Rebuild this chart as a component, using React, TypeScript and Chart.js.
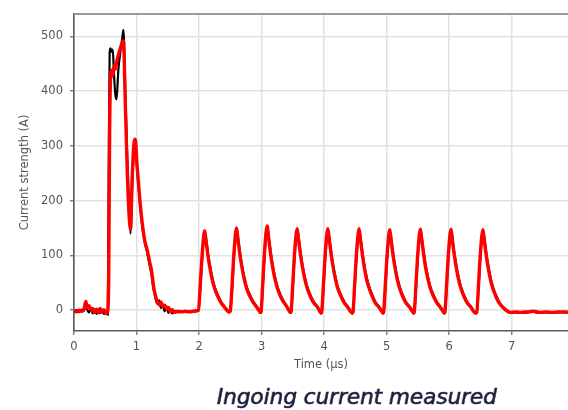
import { useEffect, useRef } from 'react';
import { Chart, registerables } from 'chart.js';

Chart.register(...registerables);

// Initial burst (µs) – red and black probe traces sampled at shared instants
const burstTime = [
  0.0, 0.04, 0.08, 0.12, 0.16, 0.19, 0.21, 0.24, 0.27, 0.3, 0.33, 0.36, 0.39, 0.42, 0.45, 0.48,
  0.51, 0.54, 0.555, 0.57, 0.585, 0.6, 0.62, 0.64, 0.66, 0.68, 0.71, 0.74, 0.77, 0.79, 0.82, 0.85,
  0.88, 0.905, 0.93, 0.96, 0.98, 1.01, 1.05, 1.09, 1.13, 1.17, 1.21, 1.24, 1.27, 1.3, 1.33, 1.36,
  1.39, 1.42, 1.45, 1.48, 1.51, 1.54, 1.57, 1.61, 1.66, 1.72, 1.78, 1.84, 1.9, 1.95,
];
const burstRed = [
  -1, -3, 0, -2, 2, 16, 5, 8, 0, 3, -4, 2, -5, 3, -3, 1,
  -6, -2, 60, 330, 425, 438, 428, 446, 440, 452, 466, 478, 488, 492, 380, 260,
  175, 148, 240, 305, 312, 262, 205, 160, 128, 110, 88, 72, 45, 28, 16, 10,
  15, 6, 9, 2, 5, -3, 1, -4, -2, -3, -2, -3, -2, -1,
];
const burstBlack = [
  -2, 0, -3, 1, -1, 12, 2, -4, 4, -6, 1, -7, 2, -5, -1, -7,
  -3, -8, 250, 470, 478, 472, 476, 430, 395, 385, 440, 470, 495, 512, 400, 285,
  190, 140, 225, 292, 300, 255, 200, 155, 125, 105, 82, 65, 40, 24, 12, 18,
  4, 10, -2, 7, -5, 2, -6, -1, -4, -2, -3, -2, -3, -2,
];

// Pulse train (µs)
const trainTime = [
  1.99, 2.02, 2.05, 2.09, 2.11, 2.14, 2.17, 2.21, 2.25, 2.3, 2.35, 2.41, 2.46, 2.49,
  2.5, 2.53, 2.56, 2.6, 2.62, 2.65, 2.68, 2.72, 2.76, 2.81, 2.86, 2.92, 2.96, 2.98,
  2.99, 3.02, 3.05, 3.09, 3.11, 3.14, 3.17, 3.21, 3.25, 3.3, 3.35, 3.4, 3.44, 3.46,
  3.47, 3.5, 3.53, 3.57, 3.59, 3.62, 3.65, 3.69, 3.73, 3.78, 3.83, 3.89, 3.93, 3.95,
  3.96, 3.99, 4.02, 4.06, 4.08, 4.11, 4.14, 4.18, 4.22, 4.27, 4.32, 4.38, 4.42, 4.45,
  4.46, 4.49, 4.52, 4.56, 4.58, 4.61, 4.64, 4.68, 4.72, 4.77, 4.82, 4.88, 4.92, 4.94,
  4.95, 4.98, 5.01, 5.05, 5.07, 5.1, 5.13, 5.17, 5.21, 5.26, 5.31, 5.37, 5.41, 5.43,
  5.44, 5.47, 5.5, 5.54, 5.56, 5.59, 5.62, 5.66, 5.7, 5.75, 5.8, 5.86, 5.9, 5.92,
  5.93, 5.96, 5.99, 6.03, 6.05, 6.08, 6.11, 6.15, 6.19, 6.24, 6.29, 6.35, 6.39, 6.42,
  6.44, 6.47, 6.5, 6.54, 6.56, 6.59, 6.62, 6.66, 6.7, 6.75, 6.8, 6.86, 6.92, 6.98,
  7.05, 7.15, 7.25, 7.35, 7.45, 7.55, 7.65, 7.75, 7.85, 7.92,
];
const trainRed = [
  0, 48, 102, 145, 128, 101, 80, 56, 39, 25, 14, 5, -2, -3,
  -1, 50, 108, 150, 131, 104, 82, 58, 40, 26, 15, 6, -1, -4,
  -3, 52, 112, 154, 134, 106, 83, 59, 41, 26, 15, 7, -1, -4,
  -3, 50, 109, 149, 130, 103, 81, 57, 40, 25, 14, 6, -2, -5,
  -4, 49, 107, 149, 131, 104, 81, 57, 39, 25, 14, 5, -2, -5,
  -4, 51, 108, 149, 130, 103, 80, 56, 40, 25, 13, 5, -2, -5,
  -4, 49, 106, 147, 129, 102, 80, 56, 39, 24, 13, 5, -2, -5,
  -4, 50, 107, 148, 130, 103, 80, 57, 39, 25, 14, 5, -2, -5,
  -4, 50, 107, 148, 129, 102, 80, 56, 39, 24, 13, 5, -2, -5,
  -4, 49, 106, 147, 129, 102, 80, 56, 39, 24, 13, 5, -1, -4,
  -3, -4, -3, -2, -4, -3, -4, -3, -3, -4,
];
const trainBlack = [
  -1, 40, 96, 142, 132, 106, 84, 60, 42, 28, 16, 6, -1, -4,
  -2, 42, 101, 147, 135, 109, 86, 62, 43, 29, 17, 7, 0, -5,
  -4, 44, 104, 151, 138, 111, 87, 63, 44, 29, 17, 8, 0, -5,
  -4, 42, 102, 146, 134, 108, 85, 61, 43, 28, 16, 7, -1, -6,
  -5, 41, 100, 146, 135, 109, 85, 61, 42, 28, 16, 6, -1, -6,
  -5, 43, 101, 146, 134, 108, 84, 60, 43, 28, 15, 6, -1, -6,
  -5, 41, 99, 144, 133, 107, 84, 60, 42, 27, 15, 6, -1, -6,
  -5, 42, 100, 145, 134, 108, 84, 61, 42, 28, 16, 6, -1, -6,
  -5, 42, 100, 145, 133, 107, 84, 60, 42, 27, 15, 6, -1, -6,
  -5, 41, 99, 144, 133, 107, 84, 60, 42, 27, 15, 6, 0, -5,
  -4, -5, -4, -3, -5, -4, -5, -4, -4, -5,
];

const yTicks = [0, 100, 200, 300, 400, 500];
const xTicks = [0, 1, 2, 3, 4, 5, 6, 7];

const toPoints = (t: number[], v: number[]) => t.map((x, i) => ({ x, y: v[i] }));

export default function App() {
  const canvasRef = useRef<HTMLCanvasElement>(null);

  useEffect(() => {
    const canvas = canvasRef.current;
    if (!canvas) return;
    Chart.defaults.font.family = "'DejaVu Sans', sans-serif";

    // top edge of the axes frame
    const frame = {
      id: 'frame',
      afterDraw(chart: any) {
        const { ctx, chartArea: a } = chart;
        ctx.save();
        ctx.strokeStyle = '#9a9a9a';
        ctx.lineWidth = 2;
        ctx.beginPath();
        ctx.moveTo(a.left, a.top);
        ctx.lineTo(a.right + 2, a.top);
        ctx.stroke();
        ctx.restore();
      },
    };

    const tickFont = { size: 11.5 };
    const chart = new Chart(canvas, {
      type: 'line',
      data: {
        datasets: [
          {
            label: 'Probe 2',
            data: [...toPoints(burstTime, burstRed), ...toPoints(trainTime, trainRed)],
            borderColor: '#ff0000',
            borderWidth: 3.4,
            pointRadius: 0,
            cubicInterpolationMode: 'monotone',
          },
          {
            label: 'Probe 1',
            data: [...toPoints(burstTime, burstBlack), ...toPoints(trainTime, trainBlack)],
            borderColor: '#000000',
            borderWidth: 2.2,
            pointRadius: 0,
            cubicInterpolationMode: 'monotone',
          },
        ],
      },
      options: {
        responsive: false,
        animation: false,
        layout: { padding: { left: 0, right: 0, top: 10, bottom: 29 } },
        plugins: { legend: { display: false }, tooltip: { enabled: false } },
        scales: {
          x: {
            type: 'linear',
            min: 0,
            max: 7.9,
            afterBuildTicks: (s: any) => {
              s.ticks = xTicks.map((value) => ({ value }));
            },
            afterFit: (s: any) => {
              s.height = 50;
            },
            ticks: { padding: 5, color: '#555', font: tickFont, maxRotation: 0 },
            grid: { color: '#e2e2e2', lineWidth: 1.5, tickColor: '#666', tickLength: 4, tickWidth: 1.2 },
            border: { color: '#5a5a5a', width: 1.6 },
            title: { display: true, text: 'Time (µs)', color: '#555', font: tickFont, padding: { top: 0, bottom: 9 } },
          },
          y: {
            type: 'linear',
            min: -38,
            max: 541,
            afterBuildTicks: (s: any) => {
              s.ticks = yTicks.map((value) => ({ value }));
            },
            afterFit: (s: any) => {
              s.width = 74;
            },
            ticks: { padding: 7, color: '#555', font: tickFont },
            grid: { color: '#e2e2e2', lineWidth: 1.5, tickColor: '#666', tickLength: 4, tickWidth: 1.2 },
            border: { color: '#5a5a5a', width: 1.6 },
            title: { display: true, text: 'Current strength (A)', color: '#555', font: tickFont, padding: { top: 18, bottom: 0 } },
          },
        },
      },
      plugins: [frame],
    });
    return () => chart.destroy();
  }, []);

  return (
    <div style={{ position: 'fixed', left: 0, top: 0, width: 568, height: 410, background: '#fff', overflow: 'hidden' }}>
      <canvas ref={canvasRef} width={568} height={410} style={{ display: 'block' }} />
      <div
        style={{
          position: 'absolute',
          left: 357,
          top: 385.5,
          transform: 'translateX(-50%)',
          fontFamily: "'DejaVu Sans', sans-serif",
          fontStyle: 'italic',
          fontSize: 21.5,
          lineHeight: 1,
          whiteSpace: 'nowrap',
          color: '#17204d',
          WebkitTextStroke: '0.5px #17204d',
          textShadow: '-1px 0 rgba(230, 150, 40, 0.55)',
        }}
      >
        Ingoing current measured
      </div>
    </div>
  );
}
